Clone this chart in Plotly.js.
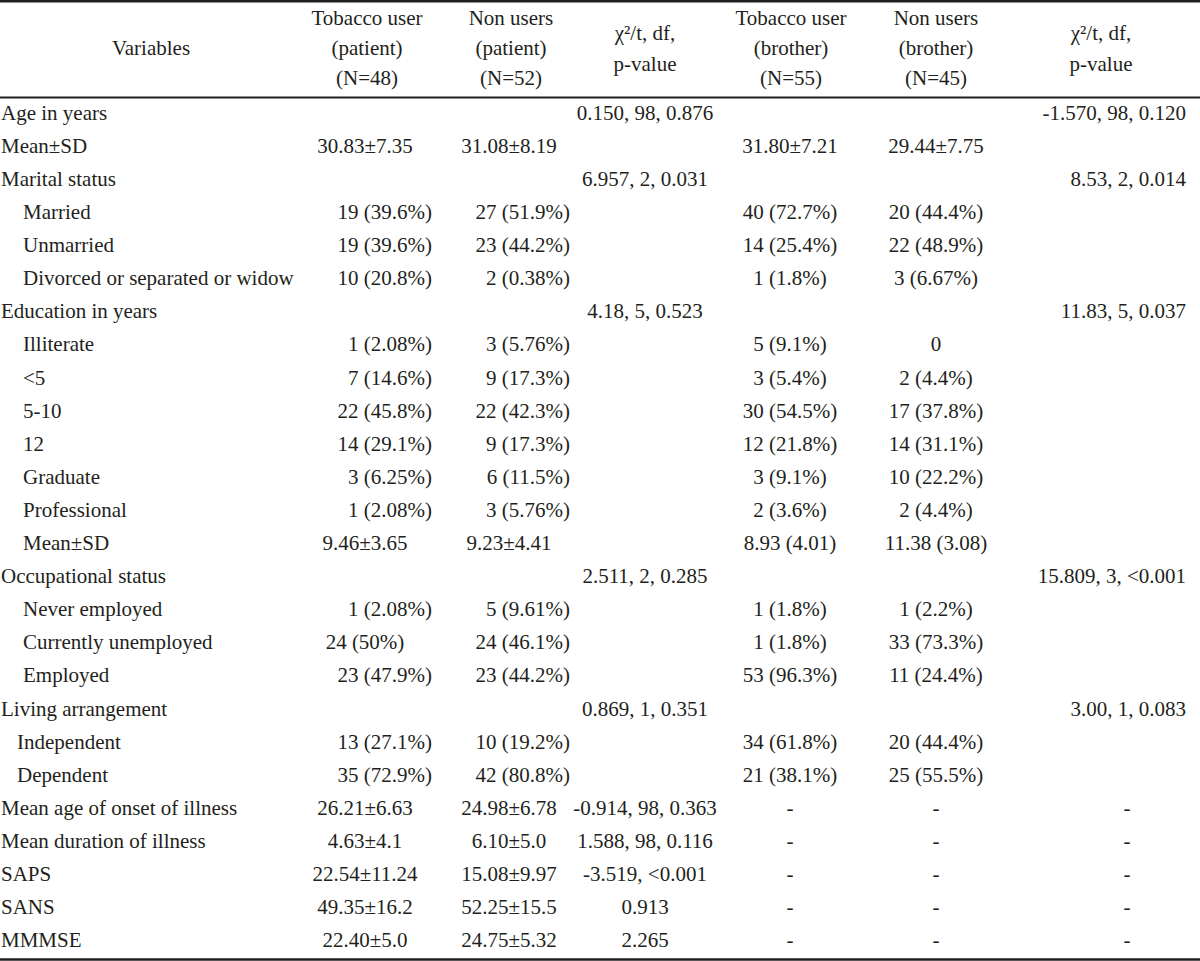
<!DOCTYPE html>
<html>
<head>
<meta charset="utf-8">
<script src="https://cdn.plot.ly/plotly-3.0.1.min.js"></script>
<style>
  html, body { margin: 0; padding: 0; background: #ffffff; }
  #chart { width: 1200px; height: 961px; }
</style>
</head>
<body>
<div id="chart"></div>
<script>
// ---------------- DATA ----------------
const headerVariables = ["Variables"];
const headerTobaccoPatient = ["Tobacco user", "(patient)", "(N=48)"];
const headerNonPatient = ["Non users", "(patient)", "(N=52)"];
const headerChiPatient = ["χ²/t, df,", "p-value"];
const headerTobaccoBrother = ["Tobacco user", "(brother)", "(N=55)"];
const headerNonBrother = ["Non users", "(brother)", "(N=45)"];
const headerChiBrother = ["χ²/t, df,", "p-value"];

const variables = [
  "Age in years", "Mean±SD", "Marital status", "Married", "Unmarried",
  "Divorced or separated or widow", "Education in years", "Illiterate", "<5", "5-10",
  "12", "Graduate", "Professional", "Mean±SD", "Occupational status",
  "Never employed", "Currently unemployed", "Employed", "Living arrangement", "Independent",
  "Dependent", "Mean age of onset of illness", "Mean duration of illness", "SAPS", "SANS",
  "MMMSE"
];
const tobaccoPatient = [
  "", "30.83±7.35", "", "19 (39.6%)", "19 (39.6%)",
  "10 (20.8%)", "", "1 (2.08%)", "7 (14.6%)", "22 (45.8%)",
  "14 (29.1%)", "3 (6.25%)", "1 (2.08%)", "9.46±3.65", "",
  "1 (2.08%)", "24 (50%)", "23 (47.9%)", "", "13 (27.1%)",
  "35 (72.9%)", "26.21±6.63", "4.63±4.1", "22.54±11.24", "49.35±16.2",
  "22.40±5.0"
];
const nonPatient = [
  "", "31.08±8.19", "", "27 (51.9%)", "23 (44.2%)",
  "2 (0.38%)", "", "3 (5.76%)", "9 (17.3%)", "22 (42.3%)",
  "9 (17.3%)", "6 (11.5%)", "3 (5.76%)", "9.23±4.41", "",
  "5 (9.61%)", "24 (46.1%)", "23 (44.2%)", "", "10 (19.2%)",
  "42 (80.8%)", "24.98±6.78", "6.10±5.0", "15.08±9.97", "52.25±15.5",
  "24.75±5.32"
];
const chiPatient = [
  "0.150, 98, 0.876", "", "6.957, 2, 0.031", "", "",
  "", "4.18, 5, 0.523", "", "", "",
  "", "", "", "", "2.511, 2, 0.285",
  "", "", "", "0.869, 1, 0.351", "",
  "", "-0.914, 98, 0.363", "1.588, 98, 0.116", "-3.519, <0.001", "0.913",
  "2.265"
];
const tobaccoBrother = [
  "", "31.80±7.21", "", "40 (72.7%)", "14 (25.4%)",
  "1 (1.8%)", "", "5 (9.1%)", "3 (5.4%)", "30 (54.5%)",
  "12 (21.8%)", "3 (9.1%)", "2 (3.6%)", "8.93 (4.01)", "",
  "1 (1.8%)", "1 (1.8%)", "53 (96.3%)", "", "34 (61.8%)",
  "21 (38.1%)", "-", "-", "-", "-",
  "-"
];
const nonBrother = [
  "", "29.44±7.75", "", "20 (44.4%)", "22 (48.9%)",
  "3 (6.67%)", "", "0", "2 (4.4%)", "17 (37.8%)",
  "14 (31.1%)", "10 (22.2%)", "2 (4.4%)", "11.38 (3.08)", "",
  "1 (2.2%)", "33 (73.3%)", "11 (24.4%)", "", "20 (44.4%)",
  "25 (55.5%)", "-", "-", "-", "-",
  "-"
];
const chiBrother = [
  "-1.570, 98, 0.120", "", "8.53, 2, 0.014", "", "",
  "", "11.83, 5, 0.037", "", "", "",
  "", "", "", "", "15.809, 3, <0.001",
  "", "", "", "3.00, 1, 0.083", "",
  "", "-", "-", "-", "-",
  "-"
];

// ---------------- LAYOUT / STYLE ----------------
const FONT = { family: "'Liberation Serif', 'Times New Roman', serif", size: 21, color: "#231f20" };
const W = 1200, H = 961;
const ROW0_PX = 114.5, PITCH_PX = 33.1;          // row centre of first body row and row pitch
const px2y = p => (p - ROW0_PX) / PITCH_PX;

// indent (px) of each row label in the first column
const ROW_INDENT = [0,0,0,22,22,22,0,22,22,22,22,22,22,22,0,22,22,22,0,16,16,0,0,0,0,0];

// column anchors in x (px units of the hidden axis)
const ANCHORS = [
  { left: 1 },
  { right: 432, center: 365 },
  { right: 570, center: 509 },
  { center: 645 },
  { center: 790 },
  { center: 936 },
  { right: 1186, center: 1127 }
];
const HEADER_X = [151, 367, 511, 645, 791, 936, 1101];
const HEADER3_PX = [20, 50, 80];      // three-line headers
const HEADER2_PX = [35, 66];          // two-line headers
const HEADER1_PX = [50];

const COLUMNS = [variables, tobaccoPatient, nonPatient, chiPatient, tobaccoBrother, nonBrother, chiBrother];
const HEADERS = [headerVariables, headerTobaccoPatient, headerNonPatient, headerChiPatient,
                 headerTobaccoBrother, headerNonBrother, headerChiBrother];

function alignOf(col, txt) {
  if (col === 0) return 'left';
  if ((col === 1 || col === 2) && /^\d+ \(\d+\.\d+%\)$/.test(txt)) return 'right';
  if (col === 6 && txt !== '-') return 'right';
  return 'center';
}
const POS = { left: 'middle right', right: 'middle left', center: 'middle center' };

const traces = [];
COLUMNS.forEach((vals, c) => {
  const xs = [], ys = [], ts = [], tp = [];
  vals.forEach((v, r) => {
    if (v === "") return;
    const a = alignOf(c, v);
    let x = ANCHORS[c][a];
    if (c === 0) x += ROW_INDENT[r];
    xs.push(x); ys.push(r); ts.push(v); tp.push(POS[a]);
  });
  traces.push({
    type: 'scatter', mode: 'text', x: xs, y: ys, text: ts, textposition: tp,
    textfont: FONT, hoverinfo: 'skip', showlegend: false, cliponaxis: false
  });
});

// header
HEADERS.forEach((lines, c) => {
  const pxs = lines.length === 3 ? HEADER3_PX : lines.length === 2 ? HEADER2_PX : HEADER1_PX;
  traces.push({
    type: 'scatter', mode: 'text',
    x: lines.map(() => HEADER_X[c]),
    y: pxs.map(px2y),
    text: lines, textposition: 'middle center',
    textfont: FONT, hoverinfo: 'skip', showlegend: false, cliponaxis: false
  });
});

const rule = (px, w) => ({
  type: 'line', xref: 'paper', x0: 0, x1: 1, yref: 'y', y0: px2y(px), y1: px2y(px),
  line: { color: '#231f20', width: w }
});

const layout = {
  width: W, height: H,
  margin: { l: 0, r: 0, t: 0, b: 0, pad: 0 },
  paper_bgcolor: '#ffffff', plot_bgcolor: '#ffffff',
  xaxis: { range: [0, W], visible: false, fixedrange: true },
  yaxis: { range: [px2y(H), px2y(0)], visible: false, fixedrange: true },
  shapes: [rule(1.3, 2.6), rule(97.5, 2), rule(959.5, 2.6)],
  hovermode: false,
  font: FONT
};

Plotly.newPlot('chart', traces, layout, { staticPlot: true, displayModeBar: false });
</script>
</body>
</html>
